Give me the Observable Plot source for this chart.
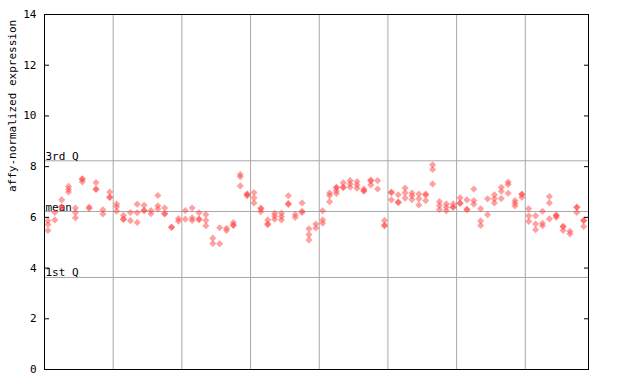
<!DOCTYPE html>
<html>
<head>
<meta charset="utf-8">
<script src="https://cdn.jsdelivr.net/npm/d3@7"></script>
<script src="https://cdn.jsdelivr.net/npm/@observablehq/plot@0.6"></script>
<style>
  html, body { margin: 0; padding: 0; background: white; }
</style>
</head>
<body>
<div id="chart"></div>
<script>
// Expression values per sample column (79 columns, left to right)
const columnValues = [
  [5.87,5.72,5.48], [6.19,5.90], [6.69,6.42,6.40], [7.22,7.11,7.00], [6.37,6.19,5.98],
  [7.52,7.50,7.40], [6.41,6.35], [7.37,7.12,7.10], [6.30,6.13], [7.00,6.80,6.78],
  [6.53,6.42,6.24], [6.08,5.94,5.92], [6.19,5.87], [6.52,6.18,5.80], [6.48,6.28,6.26],
  [6.27,6.14], [6.86,6.46,6.33], [6.37,6.15,6.13], [5.62,5.60], [5.95,5.85],
  [6.27,5.93], [6.37,5.98,5.88], [6.18,5.94,5.91], [6.11,5.88,5.67], [5.18,4.97],
  [5.59,4.96], [5.57,5.48], [5.80,5.70,5.68], [7.69,7.60,7.24], [6.93,6.89,6.85],
  [6.98,6.77,6.57], [6.37,6.33,6.22], [5.90,5.75,5.71], [6.16,6.05,5.93], [6.16,6.03,5.90],
  [6.85,6.55,6.51], [6.11,6.00], [6.57,6.24,6.19], [5.55,5.32,5.11], [5.74,5.58],
  [6.26,5.90,5.77], [6.96,6.86,6.62], [7.19,7.17,7.05,6.94], [7.36,7.20,7.17], [7.45,7.32,7.19],
  [7.41,7.28,7.15], [7.12,7.06,7.03], [7.47,7.43,7.28], [7.45,7.12], [5.88,5.70,5.66],
  [7.00,6.97,6.69], [6.89,6.61,6.58], [7.16,6.97,6.76], [6.96,6.85,6.70], [6.92,6.73,6.49],
  [6.92,6.88,6.66], [8.07,7.89,7.32], [6.62,6.47,6.31], [6.53,6.40,6.26], [6.53,6.41,6.39],
  [6.77,6.57,6.55], [6.69,6.32,6.30], [7.12,6.66,6.52], [6.34,5.86,5.68], [6.73,6.10],
  [6.89,6.73,6.57], [7.19,7.03,6.74], [7.39,7.30,6.95], [6.66,6.56,6.45], [6.92,6.90,6.79],
  [6.34,6.06,5.84], [6.06,5.74,5.51], [6.24,5.77,5.67], [6.82,6.57,5.94], [6.09,6.07,6.00],
  [5.65,5.63,5.48], [5.45,5.35], [6.41,6.39,6.19], [5.89,5.87,5.64]
];
const groupBoundaries = [10, 20, 30, 40, 50, 60, 70];
const quantileLabels = ["3rd Q", "mean", "1st Q"];
const quantileValues = [8.23, 6.23, 3.63];
const yTicks = [0, 2, 4, 6, 8, 10, 12, 14];
const yLabel = "affy-normalized expression";

const points = columnValues.flatMap((vals, i) => vals.map(v => ({col: i + 0.5, value: v})));
const quantiles = quantileLabels.map((label, i) => ({label, value: quantileValues[i]}));

const chart = Plot.plot({
  width: 640,
  height: 384,
  marginLeft: 44,
  marginRight: 52,
  marginTop: 14,
  marginBottom: 15,
  style: {fontFamily: "'DejaVu Sans Mono', monospace", fontSize: "11px", background: "white", color: "black"},
  x: {domain: [0, 79.2], axis: null},
  y: {domain: [0, 14], axis: null},
  marks: [
    Plot.ruleX(groupBoundaries, {stroke: "#a8a8a8", strokeWidth: 1}),
    Plot.ruleY(quantiles, {y: "value", stroke: "#a8a8a8", strokeWidth: 1}),
    Plot.text(quantiles, {y: "value", text: "label", frameAnchor: "left", textAnchor: "start", lineAnchor: "bottom", dx: 1, dy: -1, fill: "black"}),
    Plot.dot(points, {x: "col", y: "value", symbol: d3.symbolDiamond2, r: 3.2, fill: "#ff4444", fillOpacity: 0.5, stroke: null}),
    Plot.axisY(yTicks, {anchor: "left", tickSize: -5, tickPadding: 13, label: null, stroke: "black"}),
    Plot.axisY(yTicks, {anchor: "right", tickSize: -5, tickFormat: () => "", label: null, stroke: "black"}),
    Plot.frame({stroke: "black", strokeWidth: 1}),
    Plot.text([yLabel], {frameAnchor: "left", text: d => d, rotate: -90, dx: -32, fill: "black"})
  ]
});
document.getElementById("chart").appendChild(chart);
</script>
</body>
</html>
